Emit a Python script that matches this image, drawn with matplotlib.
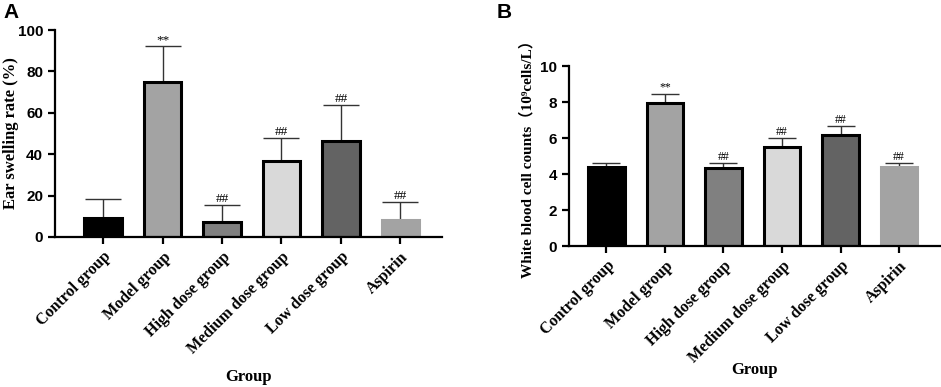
import numpy as np
import matplotlib.pyplot as plt

groups = ['Control group', 'Model group', 'High dose group',
          'Medium dose group', 'Low dose group', 'Aspirin']
ear_mean = [9.2, 75.0, 7.4, 36.9, 46.6, 8.2]
ear_err = [9.2, 17.3, 7.9, 11.1, 17.2, 8.7]
ear_marks = ['', '**', '##', '##', '##', '##']
wbc_mean = [4.37, 7.97, 4.35, 5.52, 6.17, 4.40]
wbc_err = [0.23, 0.49, 0.25, 0.46, 0.51, 0.20]
wbc_marks = ['', '**', '##', '##', '##', '##']

colors = ['#000000', '#a3a3a3', '#808080', '#d9d9d9', '#636363', '#a3a3a3']
edges = ['black', 'black', 'black', 'black', 'black', '#a3a3a3']

serif = ['Liberation Serif', 'DejaVu Serif', 'Noto Sans CJK SC']
sans = ['Liberation Sans', 'DejaVu Sans']

fig = plt.figure(figsize=(9.41, 3.87), dpi=100)


def panel(rect, means, errs, marks, ylim, yticks, ylabel, xlim, width,
          cap, tick_fs, mark_fs, ylabel_fs, ylabel_x, xlabel_y):
    ax = fig.add_axes(rect)
    x = np.arange(len(groups))
    ax.bar(x, means, width=width, color=colors, edgecolor=edges,
           linewidth=2.2, zorder=2)
    ax.errorbar(x, means, yerr=[np.zeros(len(errs)), errs], fmt='none',
                ecolor='#333333', elinewidth=1.0, capsize=cap, capthick=1.0,
                zorder=1)
    for xi, m, e, s in zip(x, means, errs, marks):
        if s:
            ax.text(xi, m + e, s, ha='center', va='bottom', fontsize=mark_fs,
                    family=serif)
    ax.set_xlim(*xlim)
    ax.set_ylim(*ylim)
    ax.set_yticks(yticks)
    ax.set_yticklabels([str(t) for t in yticks], fontsize=tick_fs,
                       fontweight='bold', family=sans)
    ax.set_xticks(x)
    ax.set_xticklabels(groups, rotation=45, ha='right', rotation_mode='anchor',
                       fontsize=11.5, fontweight='bold', family=serif)
    ax.spines['top'].set_visible(False)
    ax.spines['right'].set_visible(False)
    for sp in ['left', 'bottom']:
        ax.spines[sp].set_linewidth(1.6)
    ax.tick_params(width=1.6, length=5)
    ax.set_ylabel(ylabel, fontsize=ylabel_fs, fontweight='bold', family=serif)
    ax.yaxis.set_label_coords(ylabel_x, 0.5)
    ax.set_xlabel('Group', fontsize=12, fontweight='bold', family=serif)
    ax.xaxis.set_label_coords(0.5, xlabel_y)
    return ax


panel([55 / 941, 1 - 237 / 387, 387 / 941, 207 / 387], ear_mean, ear_err,
      ear_marks, (0, 100), [0, 20, 40, 60, 80, 100], 'Ear swelling rate (%)',
      (-0.81, 5.7), 0.63, 13, 11, 9.5, 12, -0.094, -0.64)

panel([569 / 941, 1 - 246 / 387, 371 / 941, 180 / 387], wbc_mean, wbc_err,
      wbc_marks, (0, 10), [0, 2, 4, 6, 8, 10],
      'White blood cell counts（10⁹cells/L）',
      (-0.64, 5.7), 0.62, 10, 11, 8.5, 11, -0.092, -0.645)

fig.text(3 / 941, 1 - 18 / 387, 'A', fontsize=15, fontweight='bold',
         family=sans)
fig.text(497 / 941, 1 - 18 / 387, 'B', fontsize=15, fontweight='bold',
         family=sans)

fig.savefig('out.png', dpi=100)
